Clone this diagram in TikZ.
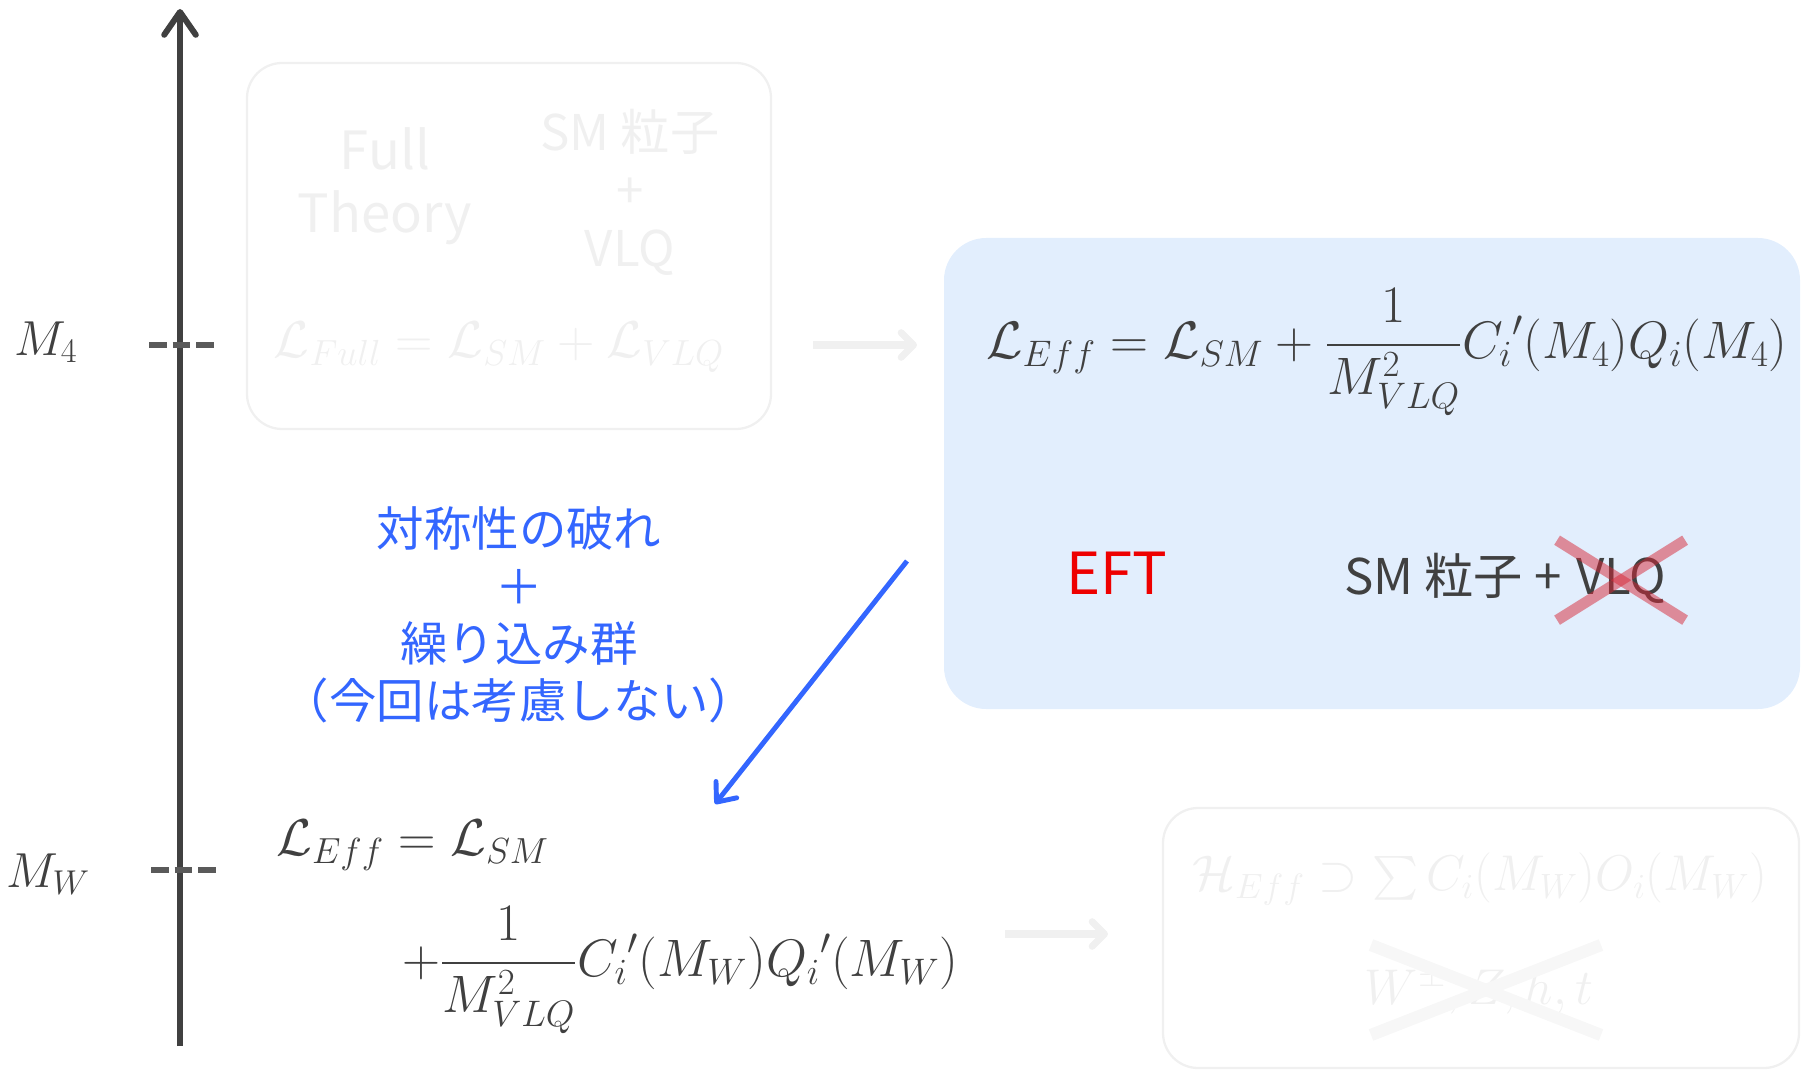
\RequirePackage{fix-cm}
\documentclass[tikz,border=0pt]{standalone}
\usepackage{amsmath}
\usepackage{fontspec}
\setmainfont{Noto Sans CJK JP}
\usetikzlibrary{arrows.meta}
\definecolor{axisgray}{RGB}{64,64,64}
\definecolor{tickgray}{RGB}{90,90,90}
\definecolor{fade}{RGB}{240,240,240}
\definecolor{fadex}{RGB}{247,247,247}
\definecolor{effbg}{RGB}{226,238,253}
\definecolor{noteblue}{RGB}{51,102,255}
\definecolor{eftred}{RGB}{238,0,0}
\definecolor{crossred}{RGB}{215,40,55}
\newcommand{\fs}[2]{\fontsize{#1}{#2}\selectfont}
\begin{document}
\begin{tikzpicture}[x=0.02cm,y=-0.02cm,every node/.style={inner sep=0pt,text=axisgray}]
\useasboundingbox (0,0) rectangle (1802,1071);
% energy axis
\coordinate (axbot) at (180,1046);
\coordinate (axtop) at (180,9);
\draw[axisgray,line width=3.4pt,-{Straight Barb[length=13pt,width=18pt,round]}] (axbot) -- (axtop);
\node[font=\fs{28}{32}] (m4) at (46,342) {$M_4$};
\node[font=\fs{28}{32}] (mw) at (48,874) {$M_W$};
\coordinate (t4l) at (149,345); \coordinate (t4r) at (216,345);
\coordinate (twl) at (151,870); \coordinate (twr) at (218,870);
\draw[tickgray,line width=3.4pt,dash pattern=on 10.2pt off 3.2pt] (t4l) -- (t4r);
\draw[tickgray,line width=3.4pt,dash pattern=on 10.2pt off 3.2pt] (twl) -- (twr);
% full theory (faded)
\draw[fade,line width=1.3pt,rounded corners=20pt] (247,63) rectangle (771,429);
\node[text=fade,align=center,font=\fs{30}{36}] (full) at (385,186) {Full\\Theory};
\node[text=fade,align=center,font=\fs{28}{33}] (smvlq) at (630,192) {SM 粒子\\+\\VLQ};
\node[text=fade,font=\fs{29.5}{34}] (lfull) at (499,347) {$\mathcal{L}_{Full}=\mathcal{L}_{SM}+\mathcal{L}_{VLQ}$};
\coordinate (fa1) at (813,345); \coordinate (fa2) at (917,345);
\draw[fade,line width=4pt,-{Straight Barb[length=7pt,width=14pt,round]}] (fa1) -- (fa2);
% EFT at M4
\fill[effbg,rounded corners=24pt] (944,238) rectangle (1800,709);
\node[font=\fs{30}{34}] (leff4) at (1387,352) {$\displaystyle\mathcal{L}_{Eff}=\mathcal{L}_{SM}+\frac{1}{M_{VLQ}^2}{C_i}'(M_4)Q_i(M_4)$};
\node[text=eftred,anchor=base,font=\fs{33}{38}] (eft) at (1117,594) {EFT};
\node[anchor=base west,font=\fs{28}{32}] (sm) at (1344,594) {SM 粒子 +};
\node[anchor=base west,font=\fs{28}{32}] (vlq) at ([shift={(14,0)}]sm.base east) {VLQ};
\draw[crossred,opacity=0.5,line width=6.2pt] ([shift={(-64,-40)}]vlq.center) -- ([shift={(64,40)}]vlq.center);
\draw[crossred,opacity=0.5,line width=6.2pt] ([shift={(-64,40)}]vlq.center) -- ([shift={(64,-40)}]vlq.center);
% running down
\node[text=noteblue,align=center,font=\fs{27}{32.6}] (note) at (519,615) {対称性の破れ\\＋\\繰り込み群\\（今回は考慮しない）};
\coordinate (ba1) at (907,561); \coordinate (ba2) at (715,804);
\draw[noteblue,line width=2.8pt,-{Straight Barb[length=9pt,width=15pt,round]}] (ba1) -- (ba2);
% EFT at MW
\node[anchor=west,font=\fs{29.5}{34}] (leffw) at (276,845) {$\mathcal{L}_{Eff}=\mathcal{L}_{SM}$};
\node[anchor=west,font=\fs{30}{34}] (leffw2) at (402,970) {$\displaystyle+\frac{1}{M_{VLQ}^2}{C_i}'(M_W){Q_i}'(M_W)$};
\coordinate (fb1) at (1005,934); \coordinate (fb2) at (1108,934);
\draw[fade,line width=4pt,-{Straight Barb[length=7pt,width=14pt,round]}] (fb1) -- (fb2);
% weak effective theory (faded)
\draw[fade,line width=1.3pt,rounded corners=20pt] (1163,808) rectangle (1799,1068);
\node[text=fade,font=\fs{28.6}{33}] (heff) at (1480,879) {$\mathcal{H}_{Eff}\supset\sum C_i(M_W)O_i(M_W)$};
\node[text=fade,font=\fs{28.6}{33}] (heavy) at (1479,990) {$W^{\pm},Z,h,t$};
\draw[fadex,line width=7pt] ([shift={(-108,-45)}]heavy.center) -- ([shift={(122,45)}]heavy.center);
\draw[fadex,line width=7pt] ([shift={(-108,45)}]heavy.center) -- ([shift={(122,-45)}]heavy.center);
\end{tikzpicture}
\end{document}
